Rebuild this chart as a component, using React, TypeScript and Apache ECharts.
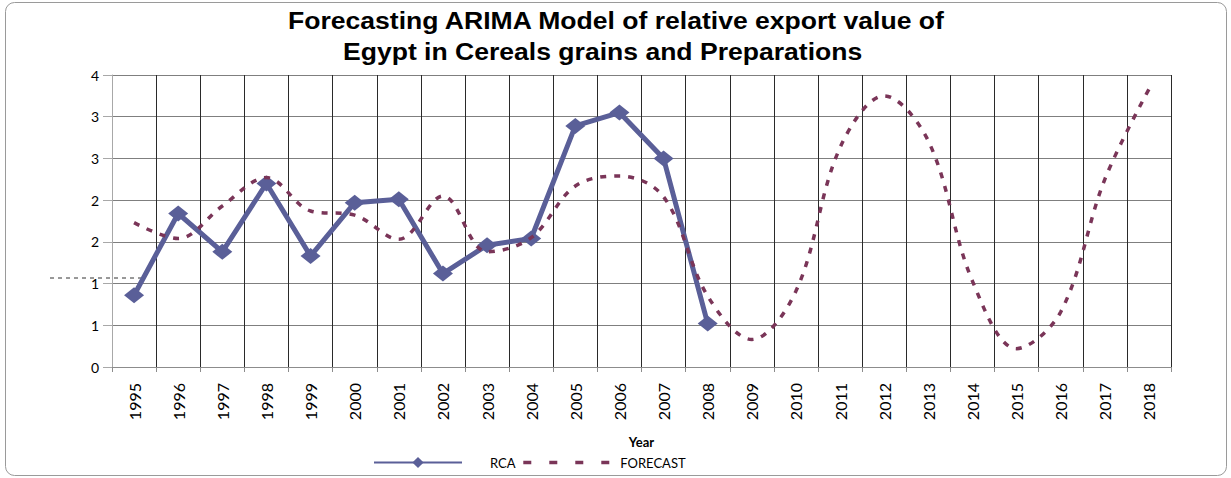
import React, { useEffect, useRef } from "react";
import * as echarts from "echarts";

const years = [
  "1995", "1996", "1997", "1998", "1999", "2000", "2001", "2002", "2003", "2004", "2005", "2006",
  "2007", "2008", "2009", "2010", "2011", "2012", "2013", "2014", "2015", "2016", "2017", "2018",
];

const rca: (number | null)[] = [
  0.86, 1.84, 1.38, 2.2, 1.33, 1.97, 2.01, 1.12, 1.46, 1.54, 2.89, 3.05, 2.5, 0.52,
  null, null, null, null, null, null, null, null, null, null,
];

const forecast = [
  1.73, 1.54, 1.93, 2.27, 1.87, 1.82, 1.53, 2.05, 1.38, 1.55, 2.17, 2.29,
  2.04, 0.85, 0.33, 0.91, 2.63, 3.25, 2.71, 1.03, 0.22, 0.66, 2.25, 3.33,
];

const yTickLabels = ["0", "1", "1", "2", "2", "3", "3", "4"];

const titleLine1 = "Forecasting ARIMA Model of relative export value of";
const titleLine2 = "Egypt in Cereals grains and Preparations";

export default function App() {
  const ref = useRef<HTMLDivElement>(null);
  useEffect(() => {
    document.body.style.margin = "0";
    const chart = echarts.init(ref.current!, undefined, { renderer: "svg" });
    const titleFont = {
      fontFamily: "Liberation Sans",
      fontWeight: "bold" as const,
      fontSize: 23.5,
      fill: "#000",
      align: "left" as const,
      verticalAlign: "middle" as const,
    };
    chart.setOption({
      animation: false,
      backgroundColor: "#fff",
      grid: { left: 112, right: 60, top: 75, bottom: 111, containLabel: false },
      legend: {
        left: 373,
        top: 456,
        padding: 0,
        itemWidth: 88,
        itemHeight: 14,
        itemGap: 6,
        textStyle: { fontFamily: "Lato", fontSize: 13, color: "#000" },
        data: [
          { name: "RCA", textStyle: { padding: [14, 0, 0, 23] } },
          {
            name: "FORECAST",
            textStyle: { padding: [14, 0, 0, 4] },
            itemStyle: { color: "rgba(0,0,0,0)", borderWidth: 0 },
            lineStyle: { type: [8, 18], width: 3.5, color: "#7a3558" },
          },
        ],
      },
      xAxis: {
        type: "category",
        data: years,
        boundaryGap: true,
        name: "Year",
        nameLocation: "middle",
        nameGap: 68,
        nameTextStyle: { fontFamily: "Lato", fontWeight: "bold", fontSize: 13, color: "#000" },
        axisLine: { show: true, lineStyle: { color: "#8c8c8c", width: 1 } },
        axisTick: { show: true, length: 5, lineStyle: { color: "#8c8c8c" } },
        axisLabel: {
          rotate: 90,
          margin: 16,
          fontFamily: "Lato",
          fontSize: 16,
          color: "#000",
        },
        splitLine: { show: true, lineStyle: { color: "#2a2a2a", width: 1 } },
      },
      yAxis: {
        type: "value",
        min: 0,
        max: 3.5,
        interval: 0.5,
        axisLine: { show: true, lineStyle: { color: "#a8a8a8", width: 1 } },
        axisTick: { show: true, length: 9, lineStyle: { color: "#a8a8a8" } },
        axisLabel: {
          margin: 13,
          fontFamily: "Lato",
          fontSize: 14,
          color: "#000",
          formatter: (v: number) => yTickLabels[Math.round(v / 0.5)] ?? "",
        },
        splitLine: { show: true, lineStyle: { color: "#7f7f7f", width: 1 } },
      },
      series: [
        {
          name: "RCA",
          type: "line",
          data: rca,
          symbol: "diamond",
          symbolSize: [20, 16],
          lineStyle: { color: "#5a5f98", width: 5 },
          itemStyle: { color: "#5a5f98" },
          connectNulls: false,
          z: 2,
        },
        {
          name: "FORECAST",
          type: "line",
          data: forecast,
          smooth: 0.35,
          symbol: "none",
          lineStyle: { color: "#7a3558", width: 3.5, type: [6, 8] },
          itemStyle: { color: "#7a3558" },
          z: 3,
        },
      ],
      graphic: [
        {
          type: "rect",
          shape: { x: 5.5, y: 2.5, width: 1221, height: 473, r: 9 },
          style: { fill: "none", stroke: "#9a9a9a", lineWidth: 1 },
          silent: true,
        },
        {
          type: "line",
          shape: { x1: 50, y1: 278, x2: 146, y2: 278 },
          style: { stroke: "#333", lineWidth: 1, lineDash: [4, 4] },
          silent: true,
        },
        {
          type: "text",
          x: 288,
          y: 20.5,
          scaleX: 1.13,
          style: { ...titleFont, text: titleLine1, x: 0, y: 0 },
          silent: true,
        },
        {
          type: "text",
          x: 343,
          y: 51.5,
          scaleX: 1.13,
          style: { ...titleFont, text: titleLine2, x: 0, y: 0 },
          silent: true,
        },
      ],
    });
    return () => chart.dispose();
  }, []);
  return <div ref={ref} style={{ width: 1231, height: 478 }} />;
}
